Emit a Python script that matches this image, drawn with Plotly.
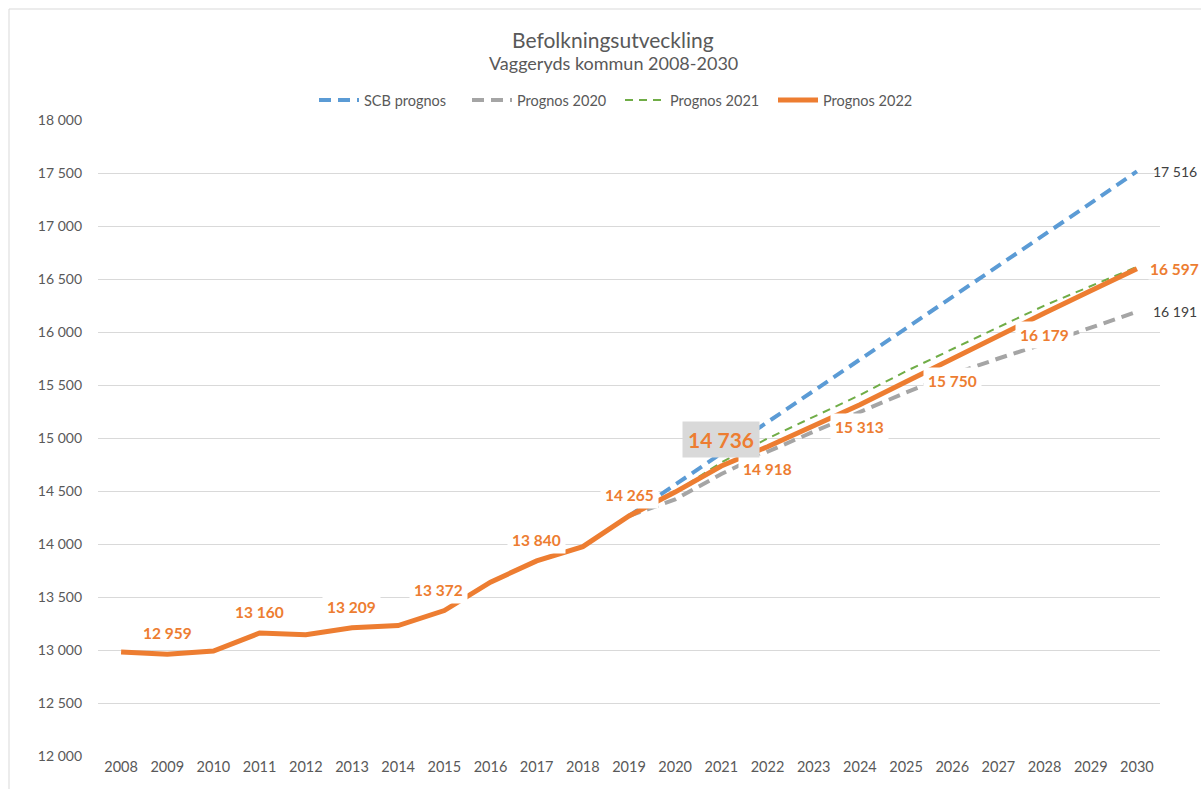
import plotly.graph_objects as go

years = list(range(2008, 2031))

# Prognos 2022 (incl. historical outcome 2008-2021)
prognos_2022 = [12980, 12959, 12990, 13160, 13145, 13209, 13230, 13372, 13640, 13840,
                13975, 14265, 14490, 14736, 14918, 15115, 15313, 15530, 15750, 15965,
                16179, 16390, 16597]
scb_years = years[11:]
scb_prognos = [14265, 14560, 14850, 15140, 15435, 15730, 16030, 16325, 16620, 16920, 17215, 17516]
p2020_years = years[11:]
prognos_2020 = [14265, 14420, 14660, 14870, 15060, 15250, 15430, 15600, 15750, 15890, 16040, 16191]
p2021_years = years[12:]
prognos_2021 = [14490, 14770, 14995, 15200, 15405, 15630, 15840, 16045, 16250, 16430, 16615]

label_years_above = [2009, 2011, 2013, 2015, 2017, 2019]
label_years_below = [2022, 2024, 2026, 2028]
highlight_year = 2021
end_year = 2030

ORANGE = "#ED7D31"
BLUE = "#5B9BD5"
GRAY = "#A5A5A5"
GREEN = "#70AD47"
TXT = "#595959"
FONT = "Lato"

W, H = 1201, 789
L, R, T, B = 98, 41, 120, 33


def px_x(px):
    return (px - L) / (W - L - R)


def px_y(py):
    return (H - B - py) / (H - T - B)


def fmt(v):
    return f"{v:,}".replace(",", " ")


fig = go.Figure()
fig.add_trace(go.Scatter(x=scb_years, y=scb_prognos, mode="lines", name="SCB prognos",
                         line=dict(color=BLUE, width=4, dash="12px,7px")))
fig.add_trace(go.Scatter(x=p2020_years, y=prognos_2020, mode="lines", name="Prognos 2020",
                         line=dict(color=GRAY, width=4, dash="12px,7px")))
fig.add_trace(go.Scatter(x=p2021_years, y=prognos_2021, mode="lines", name="Prognos 2021",
                         line=dict(color=GREEN, width=2, dash="8px,6px")))
fig.add_trace(go.Scatter(x=years, y=prognos_2022, mode="lines", name="Prognos 2022",
                         line=dict(color=ORANGE, width=5)))

annotations = []
val = dict(zip(years, prognos_2022))
lab_font = dict(family=FONT, size=15.5, color=ORANGE, weight="bold")
for yr in label_years_above:
    annotations.append(dict(x=yr, y=val[yr], xref="x", yref="y", text=fmt(val[yr]),
                            showarrow=False, yshift=21, xshift=-6 if yr == 2015 else 0,
                            bgcolor="white", borderpad=4, font=lab_font))
for yr in label_years_below:
    annotations.append(dict(x=yr, y=val[yr], xref="x", yref="y", text=fmt(val[yr]),
                            showarrow=False, yshift=-22, bgcolor="white", borderpad=4,
                            font=lab_font))
annotations.append(dict(x=highlight_year, y=val[highlight_year], xref="x", yref="y",
                        text=fmt(val[highlight_year]), showarrow=False, yshift=26,
                        bgcolor="#D9D9D9", borderpad=5,
                        font=dict(family=FONT, size=21, color=ORANGE, weight="bold")))
annotations.append(dict(x=end_year, y=val[end_year], xref="x", yref="y", text=fmt(val[end_year]),
                        showarrow=False, xanchor="left", xshift=11, bgcolor="white", borderpad=1,
                        font=lab_font))
annotations.append(dict(x=end_year, y=scb_prognos[-1], xref="x", yref="y", text=fmt(scb_prognos[-1]),
                        showarrow=False, xanchor="left", xshift=14,
                        font=dict(family=FONT, size=14, color="#404040")))
annotations.append(dict(x=end_year, y=prognos_2020[-1], xref="x", yref="y", text=fmt(prognos_2020[-1]),
                        showarrow=False, xanchor="left", xshift=14,
                        font=dict(family=FONT, size=14, color="#404040")))
# titles
annotations.append(dict(x=px_x(613), y=px_y(39), xref="paper", yref="paper",
                        xanchor="center", yanchor="middle",
                        text="Befolkningsutveckling", showarrow=False,
                        font=dict(family=FONT, size=21, color=TXT)))
annotations.append(dict(x=px_x(613), y=px_y(63), xref="paper", yref="paper",
                        xanchor="center", yanchor="middle",
                        text="Vaggeryds kommun 2008-2030", showarrow=False,
                        font=dict(family=FONT, size=18, color=TXT)))

fig.update_layout(
    width=W, height=H,
    margin=dict(l=L, r=R, t=T, b=B, autoexpand=False),
    paper_bgcolor="white", plot_bgcolor="white",
    separators=", ",
    font=dict(family=FONT, size=14.5, color=TXT),
    annotations=annotations,
    showlegend=True,
    legend=dict(orientation="h", x=px_x(620), xanchor="center", y=px_y(100), yanchor="middle",
                font=dict(family=FONT, size=14.5, color=TXT), bgcolor="rgba(0,0,0,0)",
                itemwidth=40, tracegroupgap=0, entrywidth=98, entrywidthmode="pixels"),
    xaxis=dict(range=[2007.5, 2030.5], tickmode="array", tickvals=years,
               ticktext=[str(y) for y in years], showgrid=False, showline=False,
               zeroline=False, ticks="", tickfont=dict(family=FONT, size=14.5, color=TXT),
               fixedrange=True),
    yaxis=dict(range=[12000, 18000], dtick=500, tickformat=",d", showgrid=True,
               gridcolor="#D9D9D9", gridwidth=1, zeroline=False, showline=False,
               ticks="", ticklabelstandoff=15,
               tickfont=dict(family=FONT, size=14, color=TXT), fixedrange=True),
    shapes=[dict(type="rect", xref="paper", yref="paper",
                 x0=px_x(9), x1=px_x(1215), y0=px_y(800), y1=px_y(9),
                 line=dict(color="#D9D9D9", width=1), layer="below")],
)

fig.write_html("out.html", config={"displayModeBar": False},
               post_script="document.body.style.margin='0';document.body.style.overflow='hidden';")
